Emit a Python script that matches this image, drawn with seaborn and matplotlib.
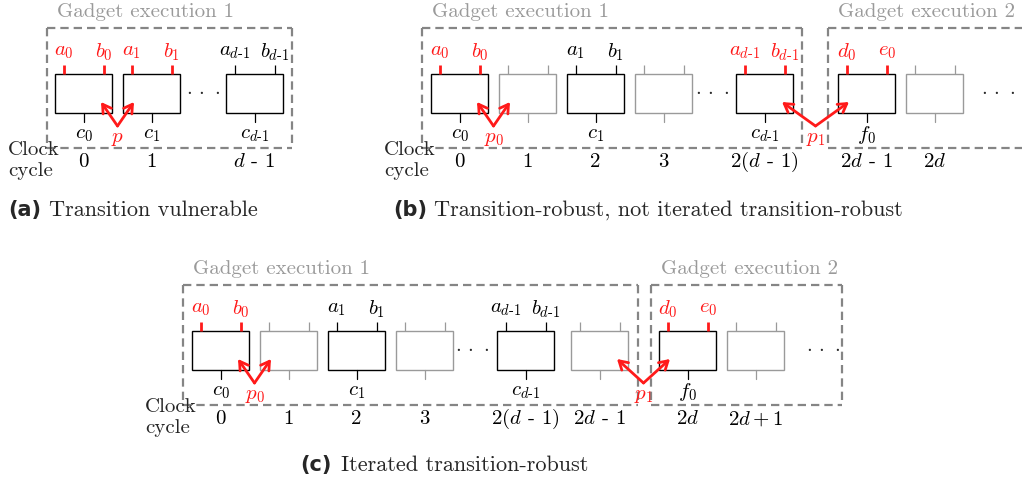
import matplotlib
matplotlib.use("Agg")
import matplotlib.pyplot as plt
import seaborn as sns
from matplotlib.patches import Rectangle

sns.set_theme(style="white")
plt.rcParams["font.family"] = ["cmr10", "DejaVu Serif"]
plt.rcParams["mathtext.fontset"] = "cm"
plt.rcParams["axes.unicode_minus"] = False
plt.rcParams["lines.scale_dashes"] = False

RED = "#ff1a1a"
GRAY = "#9a9a9a"
DASH = "#858585"

# ---------------- DATA ----------------
# panel (a)
a_kind = ["hot", "hot", "black"]
a_inputs = [("$a_0$", "$b_0$"), ("$a_1$", "$b_1$"), ("$a_{d\\text{-}1}$", "$b_{d\\text{-}1}$")]
a_outputs = ["$c_0$", "$c_1$", "$c_{d\\text{-}1}$"]
a_cycles = ["0", "1", "$d$ - 1"]
a_probes = ["$p$"]
a_caption = ("(a)", "Transition vulnerable")

# panel (b)
b_kind = ["hot", "gray", "black", "gray", "hot", "hot", "gray"]
b_inputs = [("$a_0$", "$b_0$"), None, ("$a_1$", "$b_1$"), None,
            ("$a_{d\\text{-}1}$", "$b_{d\\text{-}1}$"), ("$d_0$", "$e_0$"), None]
b_outputs = ["$c_0$", None, "$c_1$", None, "$c_{d\\text{-}1}$", "$f_0$", None]
b_cycles = ["0", "1", "2", "3", "2($d$ - 1)", "2$d$ - 1", "2$d$"]
b_probes = ["$p_0$", "$p_1$"]
b_caption = ("(b)", "Transition-robust, not iterated transition-robust")

# panel (c)
c_kind = ["hot", "gray", "black", "gray", "black", "gray", "hot", "gray"]
c_inputs = [("$a_0$", "$b_0$"), None, ("$a_1$", "$b_1$"), None,
            ("$a_{d\\text{-}1}$", "$b_{d\\text{-}1}$"), None, ("$d_0$", "$e_0$"), None]
c_outputs = ["$c_0$", None, "$c_1$", None, "$c_{d\\text{-}1}$", None, "$f_0$", None]
c_cycles = ["0", "1", "2", "3", "2($d$ - 1)", "2$d$ - 1", "2$d$", "2$d + 1$"]
c_probes = ["$p_0$", "$p_1$"]
c_caption = ("(c)", "Iterated transition-robust")

gadget_labels = ["Gadget execution 1", "Gadget execution 2"]

# ---------------- LAYOUT ----------------
W, H = 1022, 482
BW, BH = 57, 39
FS = 15
CFS = 16

fig = plt.figure(figsize=(W / 100, H / 100), dpi=100)
ax = fig.add_axes([0, 0, 1, 1])
ax.set_xlim(0, W)
ax.set_ylim(H, 0)
ax.axis("off")


def draw_panel(lefts, top, kinds, inputs, outputs, cycles, probes, probe_pairs,
               dots, frames, caption, cap_xy):
    for i, (x0, kind) in enumerate(zip(lefts, kinds)):
        ec = GRAY if kind == "gray" else "black"
        ax.add_patch(Rectangle((x0, top), BW, BH, fill=False, ec=ec, lw=1.0, zorder=3))
        pin_c = RED if kind == "hot" else ec
        pin_w = 2.0 if kind == "hot" else 0.9
        for dx in (9, 49):
            ax.plot([x0 + dx, x0 + dx], [top - 9, top], color=pin_c, lw=pin_w,
                    solid_capstyle="butt", zorder=3)
        ax.plot([x0 + BW / 2, x0 + BW / 2], [top + BH, top + BH + 9], color=ec,
                lw=0.9, zorder=3)
        if inputs[i] is not None:
            for dx, lab in zip((9, 49), inputs[i]):
                ax.text(x0 + dx, top - 22, lab, color=pin_c, fontsize=FS,
                        ha="center", va="center")
        if outputs[i] is not None:
            ax.text(x0 + BW / 2, top + 61, outputs[i], color="black", fontsize=FS,
                    ha="center", va="center")
        ax.text(x0 + BW / 2, top + 88, cycles[i], color="black", fontsize=FS,
                ha="center", va="center")
    # probes
    for lab, (i, j) in zip(probes, probe_pairs):
        rl = lefts[i] + BW
        ll = lefts[j]
        ox = (rl + ll) / 2
        oy = top + 52
        for tx in (rl - 11, ll + 11):
            ax.annotate("", xy=(tx, top + 28), xytext=(ox, oy),
                        arrowprops=dict(arrowstyle="->,head_length=0.5,head_width=0.3",
                                        color=RED, lw=2.0, shrinkA=0, shrinkB=0),
                        zorder=5)
        ax.text(ox, top + 65, lab, color=RED, fontsize=FS, ha="center", va="center",
                zorder=6)
    for dx in dots:
        ax.text(dx, top + BH / 2 - 2, "$\\cdot\\,\\cdot\\,\\cdot$", fontsize=FS,
                ha="center", va="center")
    # gadget frames
    for k, (fx0, fx1, open_right) in enumerate(frames):
        fy0, fy1 = top - 46, top + 74
        ls = (0, (6, 3.6))
        kw = dict(color=DASH, lw=1.6, linestyle=ls, zorder=1)
        ax.plot([fx0, fx1], [fy0, fy0], **kw)
        ax.plot([fx0, fx1], [fy1, fy1], **kw)
        ax.plot([fx0, fx0], [fy0, fy1], **kw)
        if not open_right:
            ax.plot([fx1, fx1], [fy0, fy1], **kw)
        ax.text(fx0 + 10, fy0 - 16, gadget_labels[k], color=GRAY, fontsize=FS,
                ha="left", va="center")
    # clock cycle
    ax.text(lefts[0] - 47, top + 76, "Clock", fontsize=FS, ha="left", va="center")
    ax.text(lefts[0] - 47, top + 97, "cycle", fontsize=FS, ha="left", va="center")
    # caption
    cx, cy = cap_xy
    ax.text(cx, cy, caption[0], fontsize=CFS - 1, family="DejaVu Sans",
            fontweight="bold", ha="left", va="center")
    ax.text(cx + 41, cy, caption[1], fontsize=CFS, ha="left", va="center")


draw_panel([55, 123, 226], 74, a_kind, a_inputs, a_outputs, a_cycles, a_probes,
           [(0, 1)], [203], [(47, 292, False)], a_caption, (8, 210))
draw_panel([431, 499, 567, 635, 736, 838, 906], 74, b_kind, b_inputs, b_outputs,
           b_cycles, b_probes, [(0, 1), (4, 5)], [712, 998],
           [(422, 802, False), (828, 1030, True)], b_caption, (393, 210))
draw_panel([192, 260, 328, 396, 497, 571, 659, 727], 331, c_kind, c_inputs,
           c_outputs, c_cycles, c_probes, [(0, 1), (5, 6)], [472, 823],
           [(183, 638, False), (651, 842, False)], c_caption, (300, 465))

fig.savefig("out.png", dpi=100)
